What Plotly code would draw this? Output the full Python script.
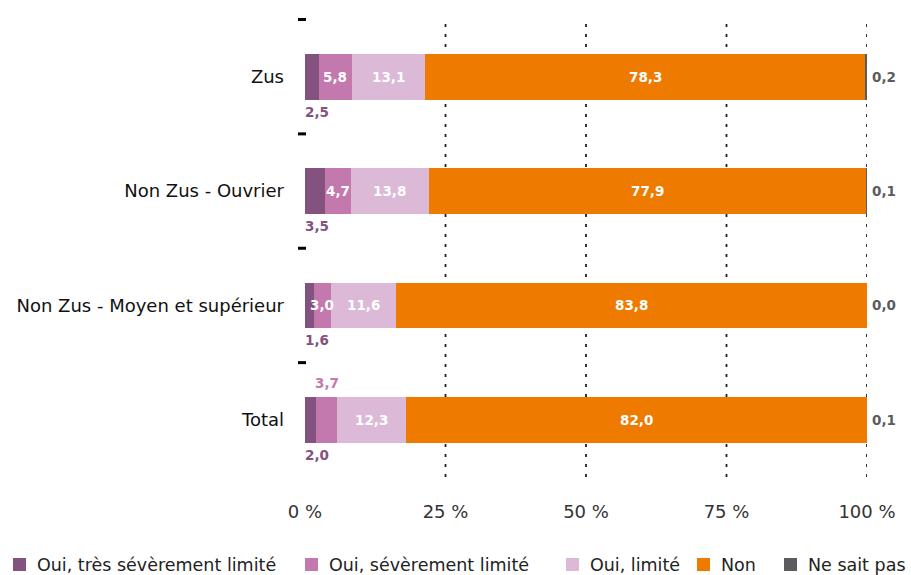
import plotly.graph_objects as go

categories = ["Zus", "Non Zus - Ouvrier", "Non Zus - Moyen et supérieur", "Total"]
series_names = ["Oui, très sévèrement limité", "Oui, sévèrement limité", "Oui, limité", "Non", "Ne sait pas"]
tres_severe = [2.5, 3.5, 1.6, 2.0]
severe = [5.8, 4.7, 3.0, 3.7]
limite = [13.1, 13.8, 11.6, 12.3]
non = [78.3, 77.9, 83.8, 82.0]
ne_sait_pas = [0.2, 0.1, 0.0, 0.1]
x_ticks = [0, 25, 50, 75, 100]
x_ticktext = ["0 %", "25 %", "50 %", "75 %", "100 %"]

series = [tres_severe, severe, limite, non, ne_sait_pas]
colors = ["#84527f", "#c479ae", "#dcbad7", "#ee7a00", "#5b5b60"]
FONT = "DejaVu Sans, Liberation Sans, sans-serif"

W, H = 911, 575
L, R, T, B = 305, 44, 18, 98
PW, PH = W - L - R, H - T - B


def px(x):  # pixel -> paper x
    return (x - L) / PW


def py(y):  # pixel -> paper y
    return (H - B - y) / PH


fig = go.Figure()
for name, vals, col in zip(series_names, series, colors):
    fig.add_trace(go.Bar(
        y=categories, x=vals, name=name, orientation="h",
        marker=dict(color=col, line=dict(width=0)),
        width=0.4, textposition="none", hoverinfo="x+name",
        showlegend=False,
    ))


def fmt(v):
    return f"{v:.1f}".replace(".", ",")


# label placement: in = white centred, below/above = under/over the bar, right = after 100 %
placement = [
    ["below"] * 4,
    ["in", "in", "in", "above"],
    ["in"] * 4,
    ["in"] * 4,
    ["right"] * 4,
]

annotations = []
for i, cat in enumerate(categories):
    start = 0.0
    for s, vals in enumerate(series):
        v = vals[i]
        mid = start + v / 2
        pos = placement[s][i]
        bold = dict(family=FONT, size=13.5, weight="bold")
        if pos == "in":
            annotations.append(dict(x=mid, y=cat, text=fmt(v), showarrow=False,
                                    font=dict(bold, color="white")))
        elif pos == "below":
            annotations.append(dict(x=start, y=cat, text=fmt(v), showarrow=False,
                                    xanchor="left", xshift=-2, yshift=-35,
                                    font=dict(bold, color=colors[s])))
        elif pos == "above":
            annotations.append(dict(x=mid, y=cat, text=fmt(v), showarrow=False,
                                    yshift=37, font=dict(bold, color=colors[s])))
        else:
            annotations.append(dict(x=100, y=cat, text=fmt(v), showarrow=False,
                                    xanchor="left", xshift=3,
                                    font=dict(bold, color=colors[s])))
        start += v

shapes = []
# dashed vertical gridlines
for t in x_ticks[1:]:
    shapes.append(dict(type="line", xref="x", yref="paper", x0=t, x1=t, y0=0, y1=1,
                       layer="below", line=dict(color="#222", width=1.8, dash="3px,7px")))
# small separator dashes left of the axis, between categories
for k in range(len(categories)):
    shapes.append(dict(type="line", xref="paper", yref="y",
                       x0=px(298), x1=px(306), y0=k - 0.5, y1=k - 0.5,
                       line=dict(color="black", width=3)))

# custom legend along the bottom
legend_x = [13, 305, 566, 697, 784]
for name, col, lx in zip(series_names, colors, legend_x):
    shapes.append(dict(type="rect", xref="paper", yref="paper",
                       x0=px(lx), x1=px(lx + 13), y0=py(571), y1=py(558),
                       fillcolor=col, line=dict(width=0)))
    annotations.append(dict(xref="paper", yref="paper", x=px(lx + 22), y=py(565),
                            xanchor="left", yanchor="middle", text=name, showarrow=False,
                            font=dict(family=FONT, size=17.5, color="#222")))

fig.update_layout(
    width=W, height=H,
    barmode="stack",
    plot_bgcolor="white", paper_bgcolor="white",
    margin=dict(l=L, r=R, t=T, b=B, autoexpand=False),
    font=dict(family=FONT, size=18, color="#222"),
    annotations=annotations,
    shapes=shapes,
    showlegend=False,
    xaxis=dict(
        range=[0, 100], tickvals=x_ticks, ticktext=x_ticktext,
        showgrid=False, zeroline=False, showline=False, ticks="",
        ticklabelstandoff=22, tickfont=dict(size=18, color="#333"),
    ),
    yaxis=dict(
        autorange="reversed", showgrid=False, zeroline=False, showline=False,
        ticks="", ticklabelstandoff=20,
        tickfont=dict(size=18, color="#111"),
    ),
)

# the page's default 8px body margin would shift the figure
fig.write_html("out.html", config={"displayModeBar": False},
               post_script="document.body.style.margin='0';")
